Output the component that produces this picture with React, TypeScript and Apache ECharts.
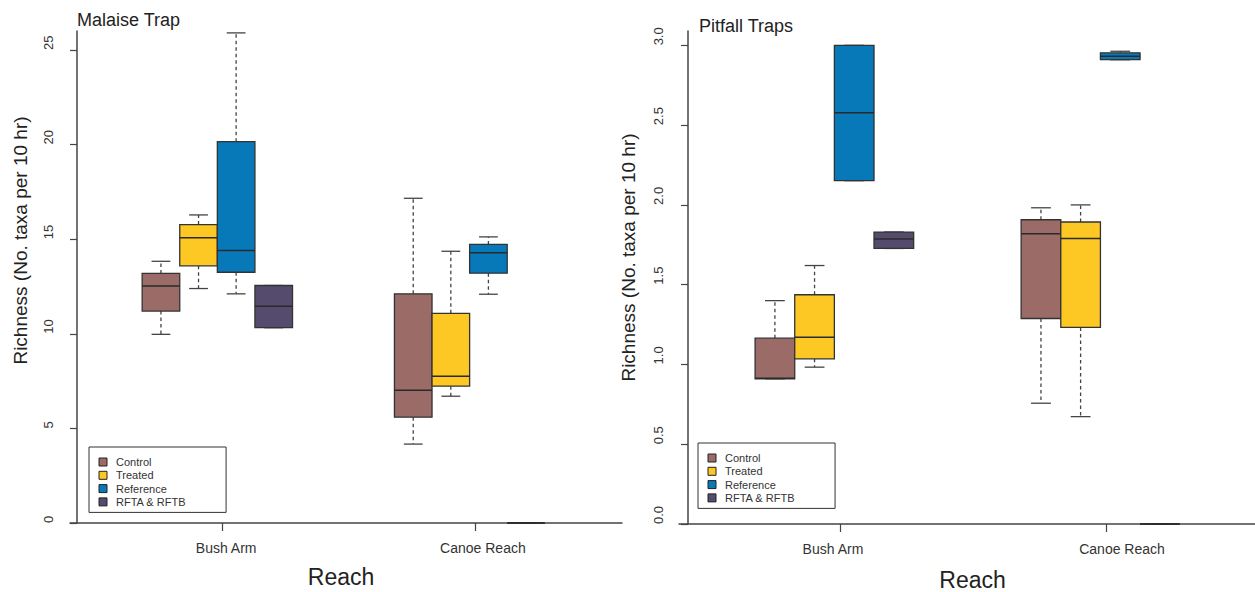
import { useEffect, useRef } from "react";
import * as echarts from "echarts";

const FONT = "'Liberation Sans', Arial, Helvetica, sans-serif";

const reaches = ["Bush Arm", "Canoe Reach"];
const groups = ["Control", "Treated", "Reference", "RFTA & RFTB"];
const groupColors = ["#9b6b67", "#fdc823", "#0779b9", "#554c6d"];

// Box summaries per reach: [min, Q1, median, Q3, max]
const malaiseControl = [
  [9.97, 11.2, 12.52, 13.19, 13.83],
  [4.17, 5.59, 7.01, 12.11, 17.16],
];
const malaiseTreated = [
  [12.39, 13.59, 15.07, 15.77, 16.28],
  [6.7, 7.23, 7.75, 11.08, 14.36],
];
const malaiseReference = [
  [12.11, 13.25, 14.4, 20.15, 25.9],
  [12.09, 13.2, 14.28, 14.72, 15.12],
];
const malaiseRfta = [
  [10.32, 10.32, 11.45, 12.55, 12.55],
  [0, 0, 0, 0, 0],
];

const pitfallControl = [
  [0.91, 0.91, 0.914, 1.165, 1.4],
  [0.757, 1.288, 1.819, 1.907, 1.982],
];
const pitfallTreated = [
  [0.983, 1.035, 1.17, 1.437, 1.62],
  [0.673, 1.232, 1.79, 1.893, 2.0],
];
const pitfallReference = [
  [2.152, 2.152, 2.578, 3.0, 3.0],
  [2.91, 2.91, 2.932, 2.953, 2.963],
];
const pitfallRfta = [
  [1.727, 1.727, 1.786, 1.83, 1.83],
  [0, 0, 0, 0, 0],
];

const malaiseTicks = [0, 5, 10, 15, 20, 25];
const pitfallTicks = [0, 0.5, 1, 1.5, 2, 2.5, 3];
const reachPositions = [1, 2];

const malaiseSets = [malaiseControl, malaiseTreated, malaiseReference, malaiseRfta];
const pitfallSets = [pitfallControl, pitfallTreated, pitfallReference, pitfallRfta];

// Box layout in x-axis units around each reach position
const BOX_W = 0.149;
const BOX_START = -0.319;

function boxRenderer(slot: number, color: string) {
  return (_params: any, api: any) => {
    const c = api.value(0);
    const mn = api.value(1);
    const q1 = api.value(2);
    const md = api.value(3);
    const q3 = api.value(4);
    const mx = api.value(5);
    const xl = c + BOX_START + slot * BOX_W;
    const xr = xl + BOX_W;
    const xm = (xl + xr) / 2;
    const cl = xm - BOX_W / 4;
    const cr = xm + BOX_W / 4;

    const pt = (x: number, y: number) => api.coord([x, y]);
    const pQ1L = pt(xl, q1);
    const pQ3R = pt(xr, q3);
    const pMin = pt(xm, mn);
    const pMax = pt(xm, mx);
    const pQ1M = pt(xm, q1);
    const pQ3M = pt(xm, q3);
    const pMedL = pt(xl, md);
    const pMedR = pt(xr, md);
    const capMinL = pt(cl, mn);
    const capMinR = pt(cr, mn);
    const capMaxL = pt(cl, mx);
    const capMaxR = pt(cr, mx);

    const whisker = { stroke: "#444", lineWidth: 1.3, lineDash: [3.5, 3] };
    const cap = { stroke: "#444", lineWidth: 1.3 };

    return {
      type: "group",
      children: [
        {
          type: "line",
          shape: { x1: pQ3M[0], y1: pQ3M[1], x2: pMax[0], y2: pMax[1] },
          style: whisker,
        },
        {
          type: "line",
          shape: { x1: pQ1M[0], y1: pQ1M[1], x2: pMin[0], y2: pMin[1] },
          style: whisker,
        },
        {
          type: "line",
          shape: { x1: capMaxL[0], y1: capMaxL[1], x2: capMaxR[0], y2: capMaxR[1] },
          style: cap,
        },
        {
          type: "line",
          shape: { x1: capMinL[0], y1: capMinL[1], x2: capMinR[0], y2: capMinR[1] },
          style: cap,
        },
        {
          type: "rect",
          shape: {
            x: pQ1L[0],
            y: pQ3R[1],
            width: pQ3R[0] - pQ1L[0],
            height: pQ1L[1] - pQ3R[1],
          },
          style: { fill: color, stroke: "#333", lineWidth: 1.3 },
        },
        {
          type: "line",
          shape: { x1: pMedL[0], y1: pMedL[1], x2: pMedR[0], y2: pMedR[1] },
          style: { stroke: "#2a2a2a", lineWidth: 1.5 },
        },
      ],
    };
  };
}

function buildSeries(sets: number[][][], axisIndex: number) {
  return sets.map((set, g) => ({
    type: "custom",
    name: groups[g],
    xAxisIndex: axisIndex,
    yAxisIndex: axisIndex,
    silent: true,
    clip: false,
    itemStyle: { color: groupColors[g] },
    encode: { x: 0, y: [1, 2, 3, 4, 5] },
    renderItem: boxRenderer(g, groupColors[g]),
    data: set.map((row, i) => [reachPositions[i], ...row]),
  }));
}

const axisLineStyle = { color: "#444", width: 1.5 };

function xAxis(gridIndex: number, min: number, max: number, shifts: number[]) {
  const rich: Record<string, any> = {};
  shifts.forEach((s, i) => {
    rich["r" + i] = {
      fontSize: 14,
      fontFamily: FONT,
      color: "#333",
      padding: s >= 0 ? [0, 0, 0, 2 * s] : [0, -2 * s, 0, 0],
    };
  });
  return {
    type: "value",
    gridIndex,
    min,
    max,
    axisLine: { show: true, onZero: false, lineStyle: axisLineStyle },
    axisTick: {
      show: true,
      length: 8,
      customValues: reachPositions,
      lineStyle: { color: "#444", width: 1.2 },
    },
    axisLabel: {
      customValues: reachPositions,
      margin: 18,
      fontSize: 14,
      fontFamily: FONT,
      color: "#333",
      formatter: (v: number) => {
        const i = reachPositions.indexOf(Math.round(v));
        return i >= 0 ? `{r${i}|${reaches[i]}}` : "";
      },
      rich,
    },
    splitLine: { show: false },
  };
}

function yAxis(
  gridIndex: number,
  max: number,
  interval: number,
  ticks: number[],
  offset: number,
  margin: number,
  digits: number
) {
  return {
    type: "value",
    gridIndex,
    min: 0,
    max,
    interval,
    offset,
    axisLine: { show: true, onZero: false, lineStyle: axisLineStyle },
    axisTick: {
      show: true,
      length: 7,
      customValues: ticks,
      lineStyle: { color: "#444", width: 1.2 },
    },
    axisLabel: {
      customValues: ticks,
      rotate: 90,
      align: "left",
      margin,
      fontSize: 13,
      fontFamily: FONT,
      color: "#333",
      formatter: (v: number) => v.toFixed(digits),
    },
    splitLine: { show: false },
  };
}

function legend(left: number, top: number) {
  return {
    data: groups,
    orient: "vertical",
    left,
    top,
    padding: [9.5, 40, 5, 9.5],
    icon: "rect",
    itemWidth: 8,
    itemHeight: 8,
    itemGap: 2.3,
    selectedMode: false,
    borderColor: "#333",
    borderWidth: 1,
    borderRadius: 0,
    itemStyle: { borderColor: "#222", borderWidth: 1 },
    textStyle: {
      fontSize: 11,
      fontFamily: FONT,
      color: "#333",
      lineHeight: 11,
      padding: [0, 0, 0, 4],
    },
  };
}

function label(text: string, x: number, y: number, size: number, opts: any = {}) {
  return {
    type: "text",
    x,
    y,
    rotation: opts.rotation || 0,
    silent: true,
    style: {
      text,
      fontSize: size,
      fontFamily: FONT,
      fill: "#222",
      align: opts.align || "center",
      verticalAlign: "middle",
    },
  };
}

export default function App() {
  const ref = useRef<HTMLDivElement>(null);

  useEffect(() => {
    if (!ref.current) return;
    const chart = echarts.init(ref.current, undefined, { renderer: "svg" });
    chart.setOption({
      animation: false,
      backgroundColor: "#ffffff",
      textStyle: { fontFamily: FONT },
      grid: [
        { left: 70, top: 31, width: 552, height: 492 },
        { left: 679, top: 31, width: 576, height: 493 },
      ],
      xAxis: [
        xAxis(0, 0.395, 2.583, [3.5, 8]),
        xAxis(1, 0.395, 2.56, [-7, 16]),
      ],
      yAxis: [
        yAxis(0, 26, 5, malaiseTicks, -7, 22, 0),
        yAxis(1, 3.09, 0.5, pitfallTicks, -9, 23, 1),
      ],
      legend: [legend(89, 447), legend(698, 443)],
      series: [...buildSeries(malaiseSets, 0), ...buildSeries(pitfallSets, 1)],
      graphic: [
        label("Malaise Trap", 77, 20, 18, { align: "left" }),
        label("Pitfall Traps", 699, 26, 18, { align: "left" }),
        label("Richness (No. taxa per 10 hr)", 20, 240.5, 19, { rotation: Math.PI / 2 }),
        label("Richness (No. taxa per 10 hr)", 628, 257.5, 19, { rotation: Math.PI / 2 }),
        label("Reach", 341, 576.5, 23),
        label("Reach", 972.5, 580, 23),
      ],
    });
    return () => chart.dispose();
  }, []);

  return (
    <div
      ref={ref}
      style={{ position: "fixed", left: 0, top: 0, width: 1255, height: 592, background: "#fff" }}
    />
  );
}
